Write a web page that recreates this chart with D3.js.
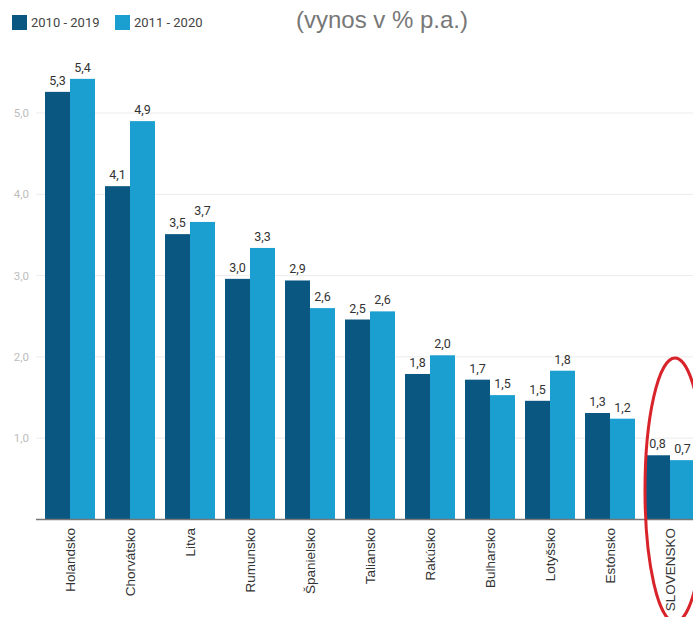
<!DOCTYPE html>
<html><head><meta charset="utf-8">
<script src="https://cdn.jsdelivr.net/npm/d3@7"></script>
<style>body{margin:0;background:#fff}svg{display:block}</style>
</head><body>
<svg id="c" width="693" height="617"></svg>
<script>
const categories = ["Holandsko","Chorvátsko","Litva","Rumunsko","Španielsko","Taliansko","Rakúsko","Bulharsko","Lotyšsko","Estónsko","SLOVENSKO"];
const series2010_2019 = [5.26,4.10,3.51,2.96,2.94,2.46,1.79,1.72,1.46,1.31,0.79];
const series2011_2020 = [5.42,4.90,3.66,3.34,2.60,2.56,2.02,1.53,1.83,1.24,0.73];
const seriesNames = ["2010 - 2019","2011 - 2020"];
const seriesColors = ["#0a5781","#1b9fd0"];
const yTicks = [1,2,3,4,5];
const title = "(vynos v % p.a.)";

const svg = d3.select("#c");
const W = 693;
const x = d3.scaleBand().domain(categories).range([40,700]).paddingInner(1/6).paddingOuter(1/12);
const xs = d3.scaleBand().domain([0,1]).range([0,x.bandwidth()]);
const y = d3.scaleLinear().domain([0,5]).range([519.5,113]);
const fmt = v => d3.format(".1f")(v).replace(".",",");

// gridlines
svg.append("g").selectAll("line").data(yTicks).join("line")
  .attr("x1",36).attr("x2",W).attr("y1",d=>y(d)).attr("y2",d=>y(d))
  .attr("stroke","#ececec").attr("stroke-width",1);
svg.append("g").selectAll("text").data(yTicks).join("text")
  .attr("x",29).attr("y",d=>y(d)+4).attr("text-anchor","end")
  .attr("font-family","Roboto, sans-serif").attr("font-size",11.5).attr("fill","#bdbdbd")
  .text(fmt);

const allSeries = [series2010_2019, series2011_2020];
allSeries.forEach((s,si)=>{
  const g = svg.append("g");
  g.selectAll("rect").data(s).join("rect")
    .attr("x",(d,i)=>x(categories[i])+xs(si)).attr("width",xs.bandwidth())
    .attr("y",d=>y(d)).attr("height",d=>y(0)-y(d)).attr("fill",seriesColors[si]);
  g.selectAll("text").data(s).join("text")
    .attr("x",(d,i)=>x(categories[i])+xs(si)+xs.bandwidth()/2)
    .attr("y",d=>y(d)-7).attr("text-anchor","middle")
    .attr("font-family","Roboto, sans-serif").attr("font-size",12.5).attr("fill","#333")
    .text(fmt);
});

// baseline
svg.append("line").attr("x1",36).attr("x2",W).attr("y1",y(0)).attr("y2",y(0))
  .attr("stroke","#777").attr("stroke-width",1.5);

// x labels
svg.append("g").selectAll("text").data(categories).join("text")
  .attr("transform",d=>`translate(${x(d)+x.bandwidth()/2+5},528) rotate(-90)`)
  .attr("text-anchor","end")
  .attr("font-family","'Liberation Sans', Arial, sans-serif").attr("font-size",13.5).attr("fill","#333")
  .text(d=>d);

// title
svg.append("text").attr("x",382).attr("y",28).attr("text-anchor","middle")
  .attr("font-family","'Liberation Sans', Arial, sans-serif").attr("font-size",24).attr("fill","#777")
  .text(title);

// legend
const lx = [12,115];
seriesNames.forEach((n,i)=>{
  svg.append("rect").attr("x",lx[i]).attr("y",15).attr("width",15).attr("height",15).attr("fill",seriesColors[i]);
  svg.append("text").attr("x",lx[i]+19).attr("y",27).attr("font-family","Roboto, sans-serif")
    .attr("font-size",13).attr("fill","#444").text(n);
});

// red ellipse
const last = categories[categories.length-1];
svg.append("ellipse").attr("cx",x(last)+x.bandwidth()/2+5).attr("cy",490)
  .attr("rx",30).attr("ry",132).attr("fill","none").attr("stroke","#d9232b").attr("stroke-width",3);
</script>
</body></html>
